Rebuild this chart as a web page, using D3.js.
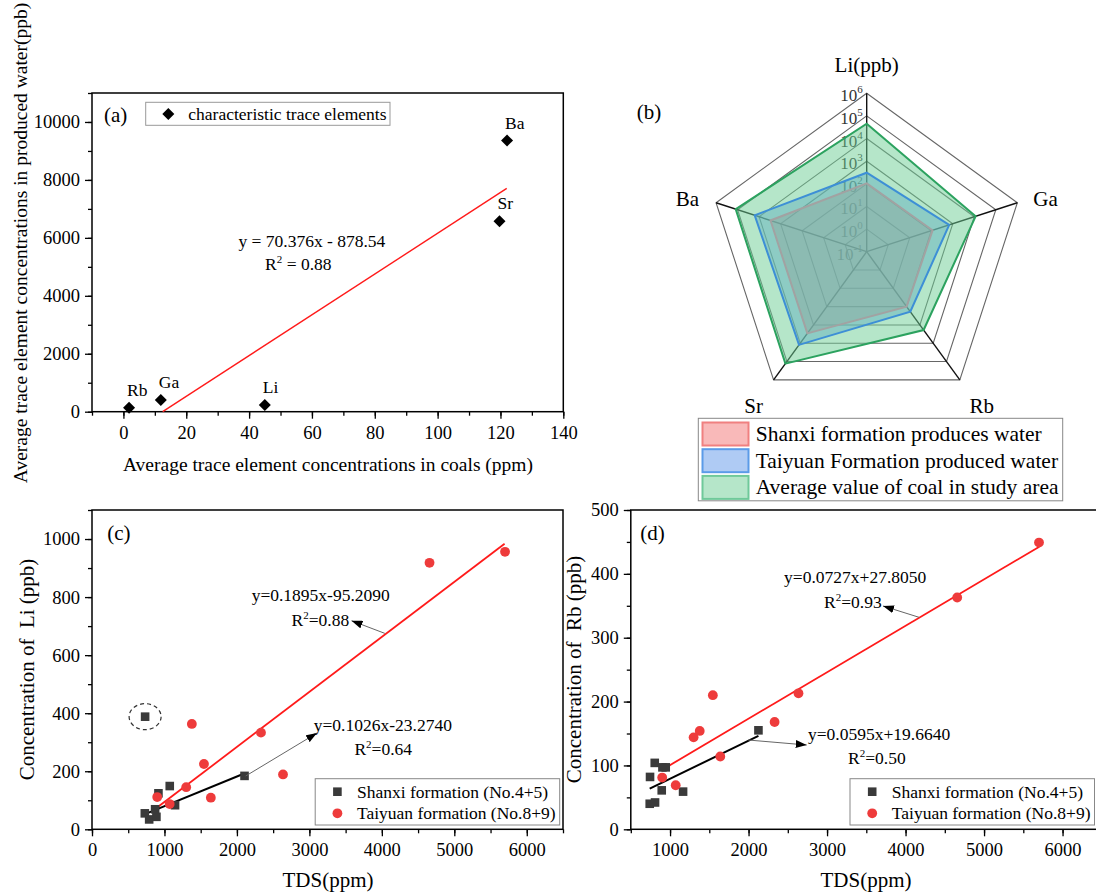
<!DOCTYPE html>
<html>
<head>
<meta charset="utf-8">
<script src="https://cdn.jsdelivr.net/npm/d3@7"></script>
<style>
  body { margin: 0; background: #fff; }
  svg { display: block; }
</style>
</head>
<body>
<script>
// (a) coal vs produced water averages
var elements = ["Rb", "Ga", "Li", "Sr", "Ba"];
var coalAvg = [1.8, 11.9, 45.0, 119.7, 122.1];       // ppm
var waterAvg = [140, 400, 230, 6570, 9360];          // ppb
var fitAx = [12.5, 122];
var fitAy = [0, 7707];

// (b) radar, log scale
var radarAxes = ["Li(ppb)", "Ga", "Rb", "Sr", "Ba"];
var shanxiWater = [105, 115, 100, 2900, 2950];
var taiyuanWater = [310, 680, 190, 12300, 16000];
var coalPpb = [45000, 11500, 1900, 130000, 122000];
var radarExp = [-1, 0, 1, 2, 3, 4, 5, 6];

// (c) Li vs TDS
var shanxiTdsLi = [729, 733, 789, 871, 889, 917, 1073, 1146, 2105];
var shanxiLi = [55, 388, 34, 69, 43, 124, 149, 83, 184];
var taiyuanTds = [900, 1072, 1300, 1378, 1545, 1640, 2332, 2636, 4658, 5700];
var taiyuanLi = [111, 87, 145, 363, 225, 109, 333, 189, 918, 956];
var fitLiRedX = [894, 5694], fitLiRedY = [74, 984];
var fitLiBlackX = [740, 2110], fitLiBlackY = [53, 193];

// (d) Rb vs TDS
var shanxiTdsRb = [741, 745, 805, 809, 894, 903, 945, 1166, 2126];
var shanxiRb = [40, 82, 104, 42, 61, 97, 97, 59, 155];
var taiyuanRb = [81, 69, 144, 154, 210, 114, 168, 213, 363, 449];
var fitRbRedX = [891, 5704], fitRbRedY = [92.6, 442.5];
var fitRbBlackX = [741, 2126], fitRbBlackY = [63.8, 146.2];

var FONT = "'Liberation Serif', 'Times New Roman', serif";
var W = 1096, H = 894;

var svg = d3.select("body").append("svg")
  .attr("width", W).attr("height", H)
  .attr("font-family", FONT);
svg.append("rect").attr("width", W).attr("height", H).attr("fill", "#fff");

var defs = svg.append("defs");
defs.append("marker")
  .attr("id", "arr")
  .attr("markerUnits", "userSpaceOnUse")
  .attr("markerWidth", 11).attr("markerHeight", 8)
  .attr("refX", 11).attr("refY", 4)
  .attr("orient", "auto")
  .append("path").attr("d", "M0,0 L11,4 L0,8 Z").attr("fill", "#000");

function range(a, b, step) { return d3.range(a, b + step / 2, step); }

function axes(g, x, y, xMajor, xMinor, yMajor, yMinor) {
  var x0 = x.range()[0], x1 = x.range()[1];
  var y0 = y.range()[0], y1 = y.range()[1];

  g.append("g").attr("transform", "translate(0," + y0 + ")")
    .call(d3.axisBottom(x).tickValues(xMinor).tickSize(4).tickFormat("").tickSizeOuter(0))
    .call(function(s) { s.select(".domain").remove(); });
  var bx = g.append("g").attr("transform", "translate(0," + y0 + ")")
    .call(d3.axisBottom(x).tickValues(xMajor).tickSize(7).tickPadding(7).tickSizeOuter(0).tickFormat(d3.format("d")));
  bx.select(".domain").remove();

  g.append("g").attr("transform", "translate(" + x0 + ",0)")
    .call(d3.axisLeft(y).tickValues(yMinor).tickSize(4).tickFormat("").tickSizeOuter(0))
    .call(function(s) { s.select(".domain").remove(); });
  var ly = g.append("g").attr("transform", "translate(" + x0 + ",0)")
    .call(d3.axisLeft(y).tickValues(yMajor).tickSize(7).tickPadding(5).tickSizeOuter(0).tickFormat(d3.format("d")));
  ly.select(".domain").remove();

  g.selectAll(".tick line").attr("stroke", "#000").attr("stroke-width", 1.3);
  g.selectAll(".tick text").attr("font-size", 18.5).attr("font-family", FONT).attr("fill", "#000");

  g.append("rect")
    .attr("x", x0).attr("y", y1)
    .attr("width", x1 - x0).attr("height", y0 - y1)
    .attr("fill", "none").attr("stroke", "#000").attr("stroke-width", 1.5);
}

function rsq(g, x, y, val) {
  var t = g.append("text").attr("x", x).attr("y", y).attr("font-size", 17.5);
  t.append("tspan").text("R");
  t.append("tspan").attr("dy", -7).attr("font-size", 11).text("2");
  t.append("tspan").attr("dy", 7).text(val);
}

// ================= (a) =================
var ga = svg.append("g");
var xa = d3.scaleLinear().domain([-10, 140]).range([92, 563.3]);
var ya = d3.scaleLinear().domain([0, 11000]).range([411.7, 93]);

axes(ga, xa, ya, range(0, 140, 20), range(-10, 140, 10), range(0, 10000, 2000), range(0, 11000, 1000));

ga.append("line")
  .attr("x1", xa(fitAx[0])).attr("y1", ya(fitAy[0]))
  .attr("x2", xa(fitAx[1])).attr("y2", ya(fitAy[1]))
  .attr("stroke", "#ff1a1a").attr("stroke-width", 1.4);

ga.selectAll(".dia").data(elements).enter().append("path")
  .attr("d", function(d, i) {
    var px = xa(coalAvg[i]), py = ya(waterAvg[i]), s = 6;
    return "M" + px + "," + (py - s) + "L" + (px + s) + "," + py + "L" + px + "," + (py + s) + "L" + (px - s) + "," + py + "Z";
  })
  .attr("fill", "#000");

ga.selectAll(".lab").data(elements).enter().append("text")
  .attr("x", function(d, i) { return xa(coalAvg[i]) - 2; })
  .attr("y", function(d, i) { return ya(waterAvg[i]) - 12; })
  .attr("font-size", 17.5)
  .text(function(d) { return d; });

ga.append("text").attr("x", xa(36.6)).attr("y", ya(5695)).attr("font-size", 17.5)
  .text("y = 70.376x - 878.54");
rsq(ga, xa(45.1), ya(4891), " = 0.88");

ga.append("text").attr("x", 104).attr("y", 122).attr("font-size", 21).text("(a)");
ga.append("rect").attr("x", 145.7).attr("y", 102.3).attr("width", 244.3).attr("height", 23)
  .attr("fill", "#fff").attr("stroke", "#999").attr("stroke-width", 1);
ga.append("path").attr("d", "M168.3,108 L174.3,114 L168.3,120 L162.3,114 Z").attr("fill", "#000");
ga.append("text").attr("x", 188.3).attr("y", 120).attr("font-size", 17.5).text("characteristic trace elements");

ga.append("text").attr("x", 328).attr("y", 471).attr("text-anchor", "middle").attr("font-size", 19.5)
  .text("Average trace element concentrations in coals (ppm)");
ga.append("text").attr("transform", "translate(27,243) rotate(-90)").attr("text-anchor", "middle").attr("font-size", 19.5)
  .text("Average trace element concentrations in produced water(ppb)");

// ================= (b) radar =================
var gb = svg.append("g");
var rcx = 866.7, rcy = 251.7, R = 158.4;
var rr = d3.scaleLog().domain([0.1, 1e6]).range([0, R]);
function ang(i) { return -Math.PI / 2 + i * 2 * Math.PI / 5; }
function pt(v, i) { return [rcx + rr(v) * Math.cos(ang(i)), rcy + rr(v) * Math.sin(ang(i))]; }
var ringPath = d3.line().curve(d3.curveLinearClosed);

radarExp.slice(1).forEach(function(e) {
  gb.append("path")
    .attr("d", ringPath(radarAxes.map(function(a, i) { return pt(Math.pow(10, e), i); })))
    .attr("fill", "none").attr("stroke", "#666").attr("stroke-width", 1.1);
});
radarAxes.forEach(function(a, i) {
  var p = pt(1e6, i);
  gb.append("line").attr("x1", rcx).attr("y1", rcy).attr("x2", p[0]).attr("y2", p[1])
    .attr("stroke", "#111").attr("stroke-width", 1.4);
});

radarExp.forEach(function(e) {
  var t = gb.append("text")
    .attr("x", rcx - 4).attr("y", rcy - rr(Math.pow(10, e)) + 8)
    .attr("text-anchor", "end").attr("font-size", 17).attr("fill", "#333");
  t.append("tspan").text("10");
  t.append("tspan").attr("dy", -8).attr("font-size", 11).text(e);
});

var radarSeries = [
  { vals: shanxiWater, fill: "#f37373", line: "#a2a2a2", sw: "#f08080" },
  { vals: taiyuanWater, fill: "#5f97e9", line: "#3d8fd6", sw: "#5b9be8" },
  { vals: coalPpb, fill: "#6bcd93", line: "#2ca25f", sw: "#6fc99a" }
];
radarSeries.forEach(function(s) {
  gb.append("path")
    .attr("d", ringPath(s.vals.map(function(v, i) { return pt(v, i); })))
    .attr("fill", s.fill).attr("fill-opacity", 0.5).attr("stroke", "none");
});
radarSeries.forEach(function(s) {
  gb.append("path")
    .attr("d", ringPath(s.vals.map(function(v, i) { return pt(v, i); })))
    .attr("fill", "none").attr("stroke", s.line).attr("stroke-width", 2);
});

var axLab = [[0, -21, "middle"], [16, 3, "start"], [22, 33, "middle"], [-20, 33, "middle"], [-17, 3, "end"]];
radarAxes.forEach(function(a, i) {
  var p = pt(1e6, i);
  gb.append("text").attr("x", p[0] + axLab[i][0]).attr("y", p[1] + axLab[i][1])
    .attr("text-anchor", axLab[i][2]).attr("font-size", 21).text(a);
});
gb.append("text").attr("x", 636.7).attr("y", 119).attr("font-size", 21).text("(b)");

var legB = ["Shanxi formation produces water", "Taiyuan Formation produced water", "Average value of coal in study area"];
gb.append("rect").attr("x", 698.3).attr("y", 418.3).attr("width", 364.4).attr("height", 82.5)
  .attr("fill", "#fff").attr("stroke", "#888").attr("stroke-width", 1);
legB.forEach(function(t, i) {
  gb.append("rect").attr("x", 702.5).attr("y", 422.5 + i * 26.7).attr("width", 46).attr("height", 23)
    .attr("fill", radarSeries[i].fill).attr("fill-opacity", 0.5)
    .attr("stroke", radarSeries[i].sw).attr("stroke-width", 2);
  gb.append("text").attr("x", 755.7).attr("y", 441 + i * 26.7).attr("font-size", 21.5).text(t);
});

// ================= (c) & (d) =================
function scatterPanel(g, x, y, sx, sy, tx, ty, redX, redY, blkX, blkY) {
  g.append("line").attr("x1", x(redX[0])).attr("y1", y(redY[0])).attr("x2", x(redX[1])).attr("y2", y(redY[1]))
    .attr("stroke", "#ff1a1a").attr("stroke-width", 1.8);
  g.append("line").attr("x1", x(blkX[0])).attr("y1", y(blkY[0])).attr("x2", x(blkX[1])).attr("y2", y(blkY[1]))
    .attr("stroke", "#000").attr("stroke-width", 2);
  g.selectAll(".sq").data(sx).enter().append("rect")
    .attr("x", function(d) { return x(d) - 4.3; })
    .attr("y", function(d, i) { return y(sy[i]) - 4.3; })
    .attr("width", 8.6).attr("height", 8.6).attr("fill", "#3a3a3a");
  g.selectAll(".ci").data(tx).enter().append("circle")
    .attr("cx", function(d) { return x(d); })
    .attr("cy", function(d, i) { return y(ty[i]); })
    .attr("r", 4.9).attr("fill", "#ee3b3b");
}

function arrow(g, x1, y1, x2, y2) {
  g.append("line").attr("x1", x1).attr("y1", y1).attr("x2", x2).attr("y2", y2)
    .attr("stroke", "#666").attr("stroke-width", 1).attr("marker-end", "url(#arr)");
}

function legendCD(g, x0) {
  g.append("rect").attr("x", x0).attr("y", 778.7).attr("width", 244.5).attr("height", 46.3)
    .attr("fill", "#fff").attr("stroke", "#888").attr("stroke-width", 1);
  g.append("rect").attr("x", x0 + 22.2 - 4.3).attr("y", 791.7 - 4.3).attr("width", 8.6).attr("height", 8.6).attr("fill", "#3a3a3a");
  g.append("circle").attr("cx", x0 + 22.2).attr("cy", 813.3).attr("r", 4.9).attr("fill", "#ee3b3b");
  g.append("text").attr("x", x0 + 41.8).attr("y", 797.5).attr("font-size", 17.5).text("Shanxi formation (No.4+5)");
  g.append("text").attr("x", x0 + 41.8).attr("y", 819).attr("font-size", 17.5).text("Taiyuan formation (No.8+9)");
}

// (c)
var gc = svg.append("g");
var xc = d3.scaleLinear().domain([0, 6500]).range([92, 563]);
var yc = d3.scaleLinear().domain([0, 1100]).range([829.3, 510]);
axes(gc, xc, yc, range(0, 6000, 1000), range(0, 6500, 500), range(0, 1000, 200), range(0, 1100, 100));
scatterPanel(gc, xc, yc, shanxiTdsLi, shanxiLi, taiyuanTds, taiyuanLi, fitLiRedX, fitLiRedY, fitLiBlackX, fitLiBlackY);
gc.append("ellipse").attr("cx", xc(shanxiTdsLi[1])).attr("cy", yc(shanxiLi[1])).attr("rx", 16).attr("ry", 13)
  .attr("fill", "none").attr("stroke", "#333").attr("stroke-width", 1.2).attr("stroke-dasharray", "4,3");
arrow(gc, xc(4041), yc(675), xc(3581), yc(718.6));
arrow(gc, xc(2121), yc(183.6), xc(3105), yc(331.7));
gc.append("text").attr("x", xc(2203)).attr("y", yc(786)).attr("font-size", 17.5).text("y=0.1895x-95.2090");
rsq(gc, xc(2753), yc(700), "=0.88");
gc.append("text").attr("x", xc(3060)).attr("y", yc(339)).attr("font-size", 17.5).text("y=0.1026x-23.2740");
rsq(gc, xc(3621), yc(256.6), "=0.64");
legendCD(gc, 315.2);
gc.append("text").attr("x", 107.3).attr("y", 539.5).attr("font-size", 21).text("(c)");
gc.append("text").attr("x", 328).attr("y", 887).attr("text-anchor", "middle").attr("font-size", 21).text("TDS(ppm)");
gc.append("text").attr("transform", "translate(34,669.5) rotate(-90)").attr("text-anchor", "middle").attr("font-size", 21)
  .attr("xml:space", "preserve").text("Concentration of  Li (ppb)");

// (d)
var gd = svg.append("g");
var xd = d3.scaleLinear().domain([500, 6500]).range([630.8, 1101.8]);
var yd = d3.scaleLinear().domain([0, 500]).range([829.3, 510]);
axes(gd, xd, yd, range(1000, 6000, 1000), range(500, 6500, 500), range(0, 500, 100), range(0, 500, 50));
scatterPanel(gd, xd, yd, shanxiTdsRb, shanxiRb, taiyuanTds, taiyuanRb, fitRbRedX, fitRbRedY, fitRbBlackX, fitRbBlackY);
arrow(gd, xd(4171), yd(332), xd(3713), yd(349.7));
arrow(gd, xd(1997), yd(139.8), xd(2741), yd(132));
gd.append("text").attr("x", xd(2452)).attr("y", yd(385.7)).attr("font-size", 17.5).text("y=0.0727x+27.8050");
rsq(gd, xd(2961), yd(346.5), "=0.93");
gd.append("text").attr("x", xd(2756)).attr("y", yd(140.6)).attr("font-size", 17.5).text("y=0.0595x+19.6640");
rsq(gd, xd(3267), yd(103), "=0.50");
legendCD(gd, 850);
gd.append("text").attr("x", 640.3).attr("y", 539.5).attr("font-size", 21).text("(d)");
gd.append("text").attr("x", 866).attr("y", 887).attr("text-anchor", "middle").attr("font-size", 21).text("TDS(ppm)");
gd.append("text").attr("transform", "translate(581,669.5) rotate(-90)").attr("text-anchor", "middle").attr("font-size", 21)
  .attr("xml:space", "preserve").text("Concentration of  Rb (ppb)");
</script>
</body>
</html>
